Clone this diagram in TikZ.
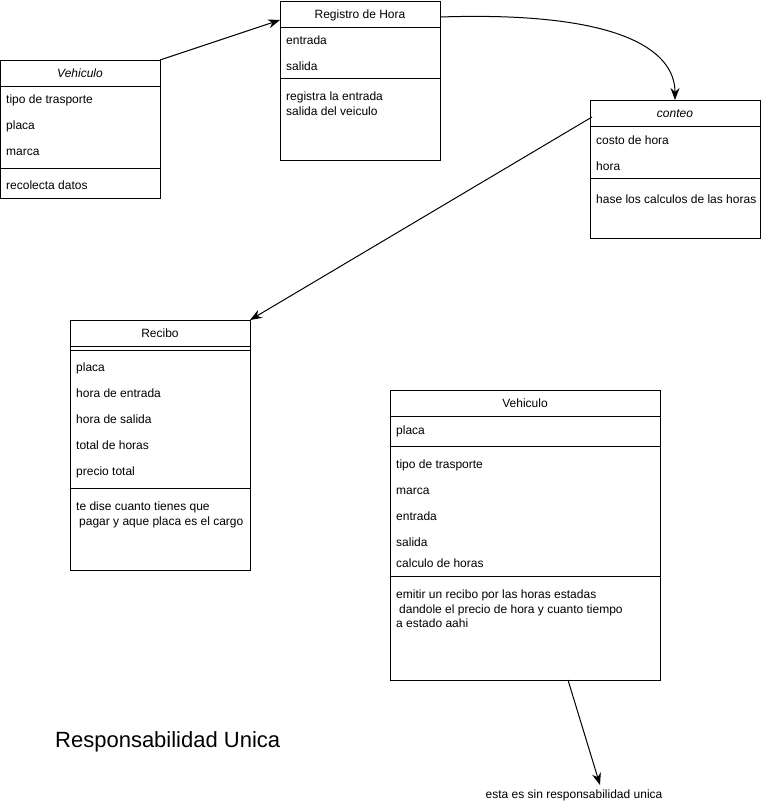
\documentclass[tikz,border=0pt]{standalone}
\usepackage{fontspec}
\setmainfont{Liberation Sans}
\usetikzlibrary{arrows.meta}
\begin{document}
\begin{tikzpicture}[x=1pt,y=-1pt,
  box/.style={draw, line width=1pt, anchor=north west, inner sep=0pt, outer sep=0pt},
  txt/.style={inner sep=0pt, font=\fontsize{12}{14}\selectfont, text height=9pt, text depth=2.5pt},
  attr/.style={txt, anchor=west},
  desc/.style={inner sep=0pt, anchor=north west, align=left, font=\fontsize{12}{14.5}\selectfont},
  sepline/.style={line width=1pt},
  conn/.style={line width=1pt, -{Stealth[length=12pt,width=9pt]}}]
\useasboundingbox (0,0) rectangle (761,804);
\fill[white] (0,0) rectangle (761,804);

% Vehiculo (top left)
\node[box, minimum width=159.5pt, minimum height=138pt] (veh) at (0.5,60) {};
\node[txt] (vehh) at (80,74) {\itshape Vehiculo};
\draw[sepline] (0.5,86) -- (160,86);
\draw[sepline] (0.5,168) -- (160,168);
\node[attr] (veha1) at (6,100) {tipo de trasporte};
\node[attr] (veha2) at (6,126) {placa};
\node[attr] (veha3) at (6,152) {marca};
\node[attr] (vehm) at (6,186) {recolecta datos};

% Registro de Hora
\node[box, minimum width=160pt, minimum height=159pt] (reg) at (280,1) {};
\node[txt] (regh) at (360,15) {Registro de Hora};
\draw[sepline] (280,27) -- (440,27);
\draw[sepline] (280,78) -- (440,78);
\node[attr] (rega1) at (286,41) {entrada};
\node[attr] (rega2) at (286,67) {salida};
\node[desc] (regm) at (286,92) {registra la entrada\\salida del veiculo};

% conteo
\node[box, minimum width=170pt, minimum height=138pt] (con) at (590,100) {};
\node[txt] (conh) at (675,114) {\itshape conteo};
\draw[sepline] (590,126) -- (760,126);
\draw[sepline] (590,178) -- (760,178);
\node[attr] (cona1) at (596,141) {costo de hora};
\node[attr] (cona2) at (596,167) {hora};
\node[attr] (conm) at (596,200) {hase los calculos de las horas};

% Recibo
\node[box, minimum width=180pt, minimum height=250pt] (rec) at (70,320) {};
\node[txt] (rech) at (160,334) {Recibo};
\draw[sepline] (70,346) -- (250,346);
\draw[sepline] (70,350) -- (250,350);
\draw[sepline] (70,488) -- (250,488);
\node[attr] (reca1) at (76,368) {placa};
\node[attr] (reca2) at (76,394) {hora de entrada};
\node[attr] (reca3) at (76,420) {hora de salida};
\node[attr] (reca4) at (76,446) {total de horas};
\node[attr] (reca5) at (76,472) {precio total};
\node[desc] (recm) at (76,502) {te dise cuanto tienes que\\\hspace{3pt}pagar y aque placa es el cargo};

% Vehiculo (bottom right)
\node[box, minimum width=270pt, minimum height=290pt] (veb) at (390,390) {};
\node[txt] (vebh) at (525,404) {Vehiculo};
\draw[sepline] (390,416) -- (660,416);
\draw[sepline] (390,446) -- (660,446);
\draw[sepline] (390,576) -- (660,576);
\node[attr] (veba0) at (396,431) {placa};
\node[attr] (veba1) at (396,465) {tipo de trasporte};
\node[attr] (veba2) at (396,491) {marca};
\node[attr] (veba3) at (396,517) {entrada};
\node[attr] (veba4) at (396,543) {salida};
\node[attr] (veba5) at (396,564) {calculo de horas};
\node[desc] (vebm) at (396,590) {emitir un recibo por las horas estadas\\\hspace{3pt}dandole el precio de hora y cuanto tiempo\\a estado aahi};

% labels
\node[inner sep=0pt, anchor=west, font=\fontsize{22}{26}\selectfont] (title) at (55,742) {Responsabilidad Unica};
\node[inner sep=0pt, font=\fontsize{12}{14}\selectfont, text height=8.5pt, text depth=2.5pt] (note) at (574,795) {esta es sin responsabilidad unica};

% connector end points
\coordinate (regL) at (280,20);
\coordinate (regR) at (440,17);
\coordinate (conL) at (592,117);
\coordinate (vebB) at (568,680);
\coordinate (noteT) at (600,785);

% connectors
\draw[conn] (veh.north east) -- (regL);
\draw[conn] (regR) .. controls (620,11) and (675,50) .. (con.north);
\draw[conn] (conL) -- (rec.north east);
\draw[conn] (vebB) -- (noteT);
\end{tikzpicture}
\end{document}
